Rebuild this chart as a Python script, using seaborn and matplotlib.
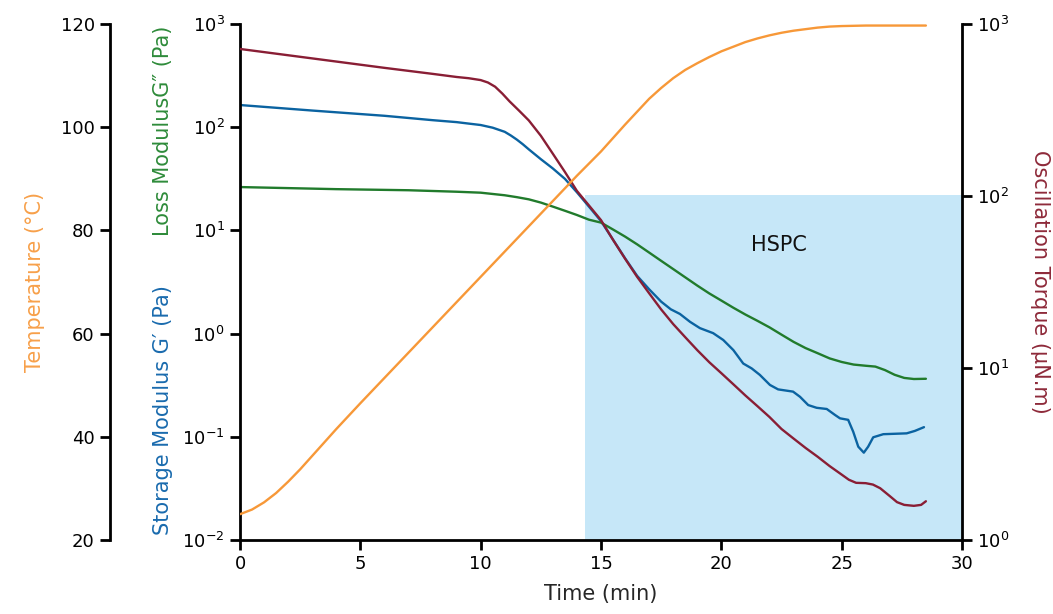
import matplotlib
matplotlib.use("Agg")
import matplotlib.pyplot as plt
import seaborn as sns

# ---------------- data ----------------
t_storage = [0, 3, 6, 8, 9, 9.5, 10, 10.5, 11, 11.25, 11.5, 11.75, 12, 12.5, 13, 13.5, 14,
             14.5, 15, 15.5, 16, 16.5, 17, 17.5, 17.9, 18.28, 18.7, 19.11, 19.66, 20.08, 20.5,
             20.91, 21.26, 21.6, 22.02, 22.36, 22.98, 23.27, 23.61, 23.96, 24.38, 24.72, 24.93,
             25.27, 25.48, 25.69, 25.92, 26.1, 26.31, 26.73, 27.7, 28.04, 28.42]
storage_G1 = [164, 145, 129, 117, 112, 108.4, 105, 98.9, 90.2, 83.2, 75.9, 68.4, 61.0, 49.0,
              39.8, 31.6, 23.4, 17.0, 12.3, 8.13, 5.37, 3.63, 2.69, 2.04, 1.72, 1.55, 1.30,
              1.13, 1.01, 0.867, 0.692, 0.513, 0.460, 0.398, 0.318, 0.288, 0.274, 0.244, 0.203,
              0.191, 0.186, 0.163, 0.151, 0.146, 0.112, 0.0802, 0.0702, 0.0802, 0.0989, 0.106,
              0.108, 0.114, 0.124]

t_loss = [0, 4, 7, 9, 10, 11, 11.5, 12, 12.5, 13, 13.5, 14, 14.5, 15, 15.5, 16, 16.5, 17,
          17.5, 18, 18.5, 19, 19.5, 20, 20.5, 21, 21.5, 22, 22.5, 23, 23.5, 24, 24.5, 25, 25.5,
          26.0, 26.4, 26.8, 27.2, 27.6, 28.0, 28.5]
loss_G2 = [26.3, 25.1, 24.5, 23.7, 23.2, 21.9, 21.0, 20.0, 18.6, 17.0, 15.5, 14.1, 12.7, 11.9,
           10.2, 8.71, 7.33, 6.10, 5.07, 4.22, 3.51, 2.92, 2.45, 2.09, 1.78, 1.53, 1.33, 1.15,
           0.977, 0.832, 0.724, 0.646, 0.575, 0.531, 0.501, 0.488, 0.479, 0.443, 0.399, 0.372,
           0.363, 0.365]

t_torque = [0, 3, 6, 8, 9, 9.5, 10, 10.3, 10.6, 10.9, 11.2, 11.6, 12, 12.5, 13, 13.5, 14, 14.5,
            15, 15.5, 16, 16.5, 17, 17.5, 18, 18.5, 19, 19.5, 20, 20.5, 21, 21.5, 22, 22.5, 23,
            23.5, 24, 24.5, 25, 25.3, 25.6, 26.0, 26.3, 26.6, 27.0, 27.3, 27.6, 28.0, 28.3, 28.5]
torque = [716, 631, 556, 513, 492, 484, 472, 457, 432, 394, 355, 313, 275, 224, 176, 138, 107,
          88.1, 72.4, 55.6, 43.2, 33.9, 27.2, 21.9, 18.0, 15.1, 12.7, 10.8, 9.33, 8.04, 6.92,
          6.00, 5.19, 4.42, 3.89, 3.43, 3.05, 2.69, 2.40, 2.24, 2.15, 2.14, 2.10, 2.00, 1.80,
          1.66, 1.60, 1.58, 1.60, 1.68]

t_temp = [0, 0.5, 1, 1.5, 2, 2.5, 3, 3.5, 4, 5, 6, 7, 8, 9, 10, 11, 12, 13, 14, 15, 16, 16.5,
          17, 17.5, 18, 18.5, 19, 19.5, 20, 20.5, 21, 21.5, 22, 22.5, 23, 23.5, 24, 24.5, 25,
          26, 28.5]
temperature = [25.0, 25.9, 27.3, 29.1, 31.3, 33.7, 36.3, 38.9, 41.5, 46.5, 51.4, 56.3, 61.2,
               66.1, 71.0, 75.9, 80.8, 85.7, 90.6, 95.3, 100.5, 103.0, 105.5, 107.6, 109.5,
               111.1, 112.4, 113.6, 114.7, 115.6, 116.5, 117.2, 117.8, 118.3, 118.7, 119.0,
               119.3, 119.5, 119.6, 119.7, 119.7]

hspc_start, hspc_end = 14.33, 30
hspc_label = "HSPC"

x_ticks = [0, 5, 10, 15, 20, 25, 30]
mod_ticks = [1e-2, 1e-1, 1e0, 1e1, 1e2, 1e3]
mod_labels = [r"$10^{-2}$", r"$10^{-1}$", r"$10^{0}$", r"$10^{1}$", r"$10^{2}$", r"$10^{3}$"]
torque_ticks = [1e0, 1e1, 1e2, 1e3]
torque_labels = [r"$10^{0}$", r"$10^{1}$", r"$10^{2}$", r"$10^{3}$"]
temp_ticks = [20, 40, 60, 80, 100, 120]

# ---------------- style ----------------
sns.set_theme(style="ticks")
plt.rcParams["font.family"] = ["DejaVu Sans"]
plt.rcParams["mathtext.fontset"] = "dejavusans"

C_ORANGE = "#F79838"
C_BLUE = "#0B63A1"
C_GREEN = "#217B2C"
C_RED = "#891E35"
C_BAND = "#C6E7F8"
TICK_FS = 13
LAB_FS = 15
LW = 1.7

W, H = 1053, 614
fig = plt.figure(figsize=(W / 100, H / 100), dpi=100)
L, R, T, B = 240, 962, 24, 540
ax = fig.add_axes([L / W, 1 - B / H, (R - L) / W, (B - T) / H])
ax_q = ax.twinx()
ax_T = ax.twinx()

ax.axvspan(hspc_start, hspc_end, ymin=0, ymax=0.669, color=C_BAND, lw=0, zorder=0)

sns.lineplot(x=t_storage, y=storage_G1, ax=ax, color=C_BLUE, lw=LW)
sns.lineplot(x=t_loss, y=loss_G2, ax=ax, color=C_GREEN, lw=LW)
sns.lineplot(x=t_torque, y=torque, ax=ax_q, color=C_RED, lw=LW)
sns.lineplot(x=t_temp, y=temperature, ax=ax_T, color=C_ORANGE, lw=LW)

for line in ax.lines + ax_q.lines + ax_T.lines:
    line.set_solid_joinstyle("round")
    line.set_solid_capstyle("round")

ax.set_yscale("log")
ax.set_xlim(0, 30)
ax.set_ylim(1e-2, 1e3)
ax.set_xticks(x_ticks)
ax.set_xticklabels([str(v) for v in x_ticks])
ax.set_yticks(mod_ticks)
ax.set_yticklabels(mod_labels)
ax.yaxis.set_minor_locator(matplotlib.ticker.NullLocator())
ax.set_xlabel("Time (min)", fontsize=LAB_FS, labelpad=8)
ax.set_ylabel("")

ax_q.set_yscale("log")
ax_q.set_ylim(1e0, 1e3)
ax_q.set_yticks(torque_ticks)
ax_q.set_yticklabels(torque_labels)
ax_q.yaxis.set_minor_locator(matplotlib.ticker.NullLocator())
ax_q.set_ylabel("")

ax_T.set_ylim(20, 120)
ax_T.yaxis.set_ticks_position("left")
ax_T.yaxis.set_label_position("left")
ax_T.set_yticks(temp_ticks)
ax_T.set_yticklabels([str(v) for v in temp_ticks])
ax_T.spines["left"].set_position(("axes", (110 - L) / (R - L)))
ax_T.set_ylabel("")

for a in (ax, ax_q, ax_T):
    for s in a.spines.values():
        s.set_visible(False)
        s.set_linewidth(2)
        s.set_color("black")
    a.tick_params(axis="both", which="major", direction="out", length=7, width=2,
                  color="black", labelcolor="black", pad=4, labelsize=TICK_FS)
    a.grid(False)
ax.spines["left"].set_visible(True)
ax.spines["bottom"].set_visible(True)
ax_q.spines["right"].set_visible(True)
ax_T.spines["left"].set_visible(True)
ax_q.tick_params(axis="x", which="both", bottom=False, labelbottom=False)
ax_T.tick_params(axis="x", which="both", bottom=False, labelbottom=False)

ax.text(22.4, 7.2, hspc_label, fontsize=15, ha="center", va="center", color="#111111")

fig.text(35 / W, 1 - 282 / H, "Temperature (°C)", rotation=90, ha="center", va="center",
         fontsize=LAB_FS, color="#F7A04A")
fig.text(163 / W, 1 - 410 / H, "Storage Modulus G′ (Pa)", rotation=90, ha="center", va="center",
         fontsize=LAB_FS, color="#1A6BAE")
fig.text(163 / W, 1 - 131 / H, "Loss ModulusG″ (Pa)", rotation=90, ha="center", va="center",
         fontsize=LAB_FS, color="#2E8B3A")
fig.text(1040 / W, 1 - 282 / H, "Oscillation Torque (µN.m)", rotation=270, ha="center",
         va="center", fontsize=LAB_FS, color="#8E2A3A")

fig.savefig("out.png", dpi=100, facecolor="white")
